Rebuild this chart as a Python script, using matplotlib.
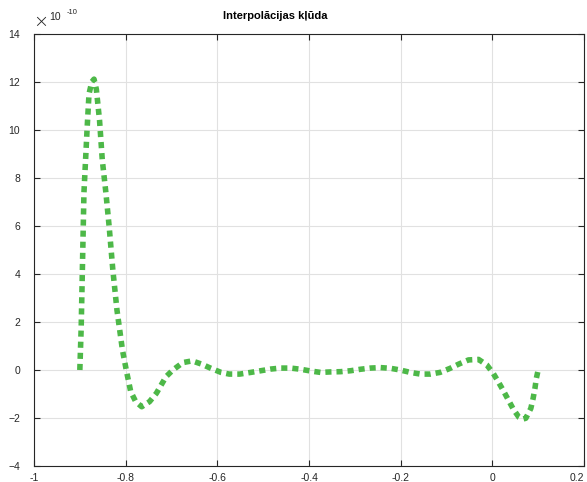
import numpy as np
import matplotlib.pyplot as plt

plt.rcParams['font.family'] = ['Liberation Sans', 'DejaVu Sans']

# interpolation error values (scaled by 1e-10)
x_err = [-0.900, -0.897, -0.891, -0.884, -0.880, -0.874, -0.869, -0.864, -0.857,
         -0.851, -0.843, -0.836, -0.828, -0.819, -0.807, -0.798, -0.789, -0.778,
         -0.765, -0.748, -0.733, -0.712, -0.697, -0.675, -0.655, -0.635, -0.614,
         -0.592, -0.574, -0.551, -0.527, -0.505, -0.483, -0.462, -0.440, -0.418,
         -0.397, -0.375, -0.353, -0.331, -0.309, -0.288, -0.266, -0.244, -0.222,
         -0.201, -0.179, -0.157, -0.135, -0.114, -0.092, -0.074, -0.052, -0.030,
         -0.012, 0.002, 0.013, 0.024, 0.035, 0.046, 0.058, 0.066, 0.073, 0.084,
         0.089, 0.093, 0.096, 0.100]
y_err = [0.00, 1.80, 7.40, 10.10, 11.50, 12.00, 12.12, 11.70, 10.40,
         8.75, 7.36, 5.97, 4.17, 2.50, 0.83, -0.07, -0.90, -1.32,
         -1.53, -1.32, -0.97, -0.28, 0.00, 0.31, 0.38, 0.25, 0.07,
         -0.10, -0.17, -0.17, -0.10, -0.03, 0.04, 0.08, 0.08, 0.03,
         -0.04, -0.10, -0.08, -0.07, -0.03, 0.03, 0.08, 0.10, 0.07,
         0.00, -0.10, -0.17, -0.17, -0.10, 0.07, 0.24, 0.42, 0.44,
         0.21, -0.14, -0.49, -0.86, -1.25, -1.64, -1.97, -2.05, -2.01, -1.60,
         -1.18, -0.76, -0.35, 0.00]

x_ticks = [-1, -0.8, -0.6, -0.4, -0.2, 0, 0.2]
x_labels = ['-1', '-0.8', '-0.6', '-0.4', '-0.2', '0', '0.2']
y_ticks = [-4, -2, 0, 2, 4, 6, 8, 10, 12, 14]

fig = plt.figure(figsize=(5.87, 4.82), dpi=100)
ax = fig.add_axes([34 / 587, 1 - 466 / 482, 550 / 587, 432 / 482])

ax.plot(x_err, y_err, color='#4db848', linewidth=4, linestyle=(0, (1.1, 0.9)),
        dash_capstyle='butt', solid_joinstyle='round')

ax.set_xlim(-1, 0.2)
ax.set_ylim(-4, 14)
ax.set_xticks(x_ticks)
ax.set_xticklabels(x_labels)
ax.set_yticks(y_ticks)
ax.grid(True, color='#e1e1e1', linewidth=0.8)
ax.set_axisbelow(True)
ax.tick_params(direction='in', length=4, width=0.8, labelsize=7.5, colors='#262626',
               top=True, right=True)
ax.tick_params(axis='x', pad=5)
ax.tick_params(axis='y', pad=10)
# keep the last x label inside the figure edge
ax.get_xticklabels()[-1].set_horizontalalignment('right')
for s in ax.spines.values():
    s.set_color('#262626')
    s.set_linewidth(0.8)

fig.text(275 / 587, 1 - 16 / 482, 'Interpolācijas kļūda', ha='center', va='center',
         fontsize=8, fontweight='bold', color='black')

# exponent marker above the y axis
fig.text(41 / 587, 1 - 22 / 482, '×', ha='center', va='center', fontsize=13,
         color='#262626', family='DejaVu Sans', fontweight='light')
fig.text(49 / 587, 1 - 17 / 482, '10', ha='left', va='center', fontsize=7.5, color='#262626')
fig.text(67 / 587, 1 - 12 / 482, '-10', ha='left', va='center', fontsize=5.5, color='#262626')

fig.savefig('out.png', dpi=100)
